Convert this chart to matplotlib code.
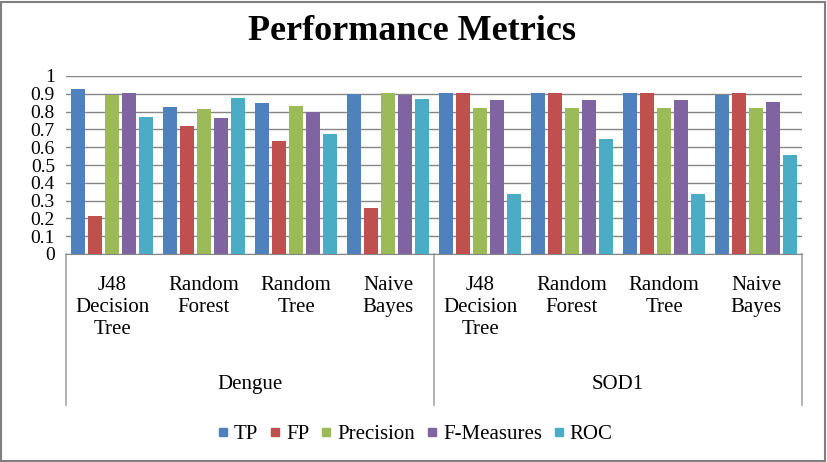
import matplotlib
matplotlib.use("Agg")
import matplotlib.lines as mlines
import matplotlib.pyplot as plt
import numpy as np

# Dados
classifiers = ["J48\nDecision\nTree", "Random\nForest", "Random\nTree", "Naive\nBayes"] * 2
datasets = ["Dengue", "SOD1"]
metrics = ["TP", "FP", "Precision", "F-Measures", "ROC"]

tp = [0.925, 0.826, 0.846, 0.899, 0.906, 0.906, 0.906, 0.893]
fp = [0.212, 0.720, 0.636, 0.259, 0.906, 0.906, 0.906, 0.906]
precision = [0.893, 0.814, 0.829, 0.902, 0.822, 0.822, 0.822, 0.820]
f_measures = [0.906, 0.764, 0.799, 0.893, 0.863, 0.863, 0.863, 0.856]
roc = [0.769, 0.878, 0.674, 0.871, 0.338, 0.645, 0.338, 0.555]

series = [tp, fp, precision, f_measures, roc]
colors = ["#4F81BD", "#C0504D", "#9BBB59", "#8064A2", "#4BACC6"]

plt.rcParams.update({"font.family": "Liberation Serif", "font.size": 15})

W, H = 827, 462
fig = plt.figure(figsize=(W / 100, H / 100), dpi=100)
fig.patches.append(plt.Rectangle((1 / W, 1 / H), (W - 3) / W, (H - 3) / H,
                                 transform=fig.transFigure, fill=False,
                                 edgecolor="#7f7f7f", linewidth=1.5))

left, right, top, bottom = 66, 802, 76, 254
ax = fig.add_axes([left / W, 1 - bottom / H, (right - left) / W, (bottom - top) / H])

x = np.arange(len(classifiers))
pitch = 17 / 92
width = 13.3 / 92
for i, (vals, c) in enumerate(zip(series, colors)):
    ax.bar(x + (i - 2) * pitch, vals, width, color=c, zorder=3)

ax.set_xlim(-0.5, len(classifiers) - 0.5)
ax.set_ylim(0, 1)
ax.set_yticks(np.arange(0, 1.01, 0.1))
ax.set_yticklabels(["0", "0.1", "0.2", "0.3", "0.4", "0.5", "0.6", "0.7", "0.8", "0.9", "1"])
ax.tick_params(axis="y", length=0, pad=8, labelsize=14)
ax.set_xticks([])
ax.grid(axis="y", color="#868686", linewidth=1, zorder=0)
for s in ["left", "right", "top"]:
    ax.spines[s].set_visible(False)
ax.spines["bottom"].set_color("#868686")
ax.spines["bottom"].set_zorder(4)

# Eixo de categorias em dois níveis
trans = ax.get_xaxis_transform()
px = 1 / (bottom - top)
for xv in [-0.5, 3.5, 7.5]:
    ax.add_line(mlines.Line2D([xv, xv], [0, -(405 - bottom) * px], color="#a6a6a6",
                              lw=1.2, transform=trans, clip_on=False))
for xi, lab in zip(x, classifiers):
    ax.text(xi, -(276 - bottom) * px, lab, transform=trans, ha="center", va="top",
            linespacing=1.23)
for j, name in enumerate(datasets):
    ax.text(1.5 + 4 * j, -(384 - bottom) * px, name, transform=trans,
            ha="center", va="center")

fig.text(412 / W, 1 - 32 / H, "Performance Metrics", ha="center", va="center",
         fontsize=26, fontweight="bold")

handles = [mlines.Line2D([], [], color=c, marker="s", lw=0, markersize=5.5, label=m)
           for c, m in zip(colors, metrics)]
fig.legend(handles=handles, loc="center", bbox_to_anchor=(415 / W, 1 - 434 / H),
           ncol=5, frameon=False, handlelength=0.5, handletextpad=0.29,
           columnspacing=0.55, fontsize=15)

fig.savefig("out.png", dpi=100)
